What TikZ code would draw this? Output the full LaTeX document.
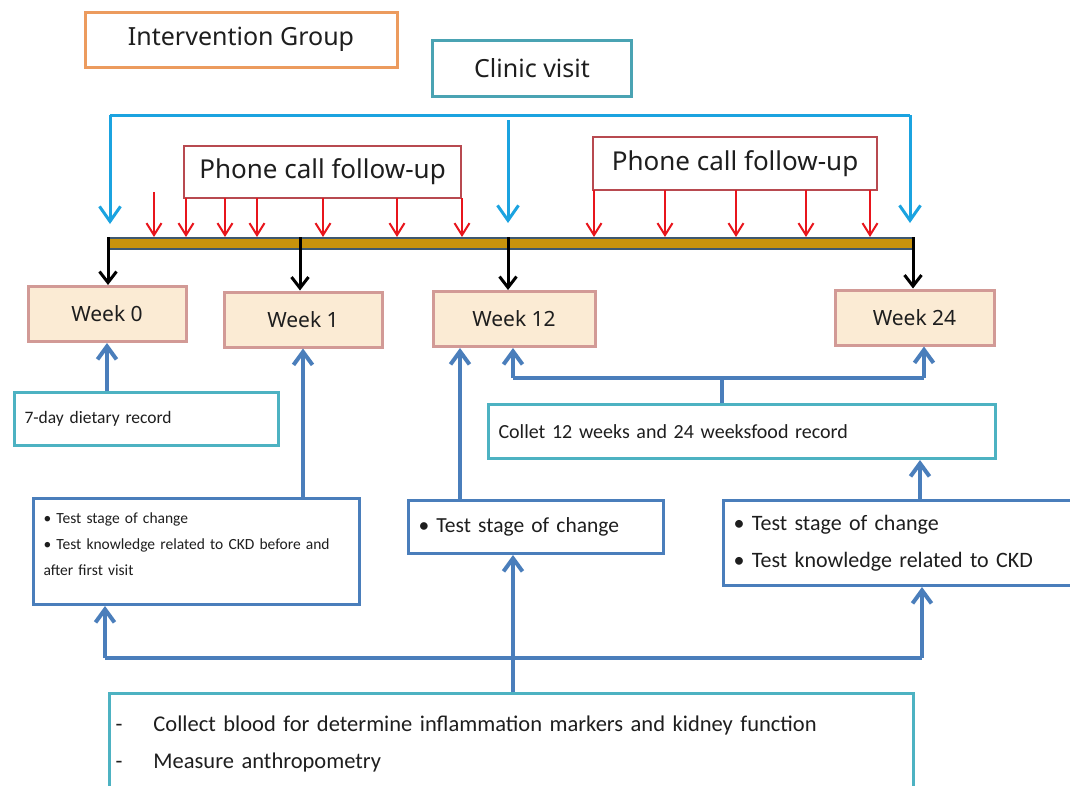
\documentclass[tikz,border=0pt]{standalone}
\usepackage{fontspec}
\setmainfont{Noto Sans}
\newfontfamily\bodyfont[WordSpace=0.75]{Carlito}
\usetikzlibrary{arrows.meta}

\definecolor{orangeb}{HTML}{EC9B5E}
\definecolor{tealb}{HTML}{4AA3B3}
\definecolor{tealbox}{HTML}{4DB2C2}
\definecolor{cyanarr}{HTML}{1BA3E0}
\definecolor{redarr}{HTML}{E8151C}
\definecolor{redbox}{HTML}{B84A50}
\definecolor{barfill}{HTML}{C8930C}
\definecolor{bardraw}{HTML}{3E5870}
\definecolor{weekfill}{HTML}{FBEBD4}
\definecolor{weekdraw}{HTML}{D29A96}
\definecolor{steel}{HTML}{4A7EBB}
\definecolor{ink}{HTML}{1E1E1E}

\tikzset{
  titlebox/.style={draw=orangeb, line width=3, fill=white, minimum width=312, minimum height=55,
    font=\fontsize{25}{28}\selectfont, text=ink},
  visitbox/.style={draw=tealb, line width=3.5, minimum width=199, minimum height=56,
    font=\fontsize{25}{28}\selectfont, text=ink},
  phonebox/.style={draw=redbox, line width=1.5, fill=white, font=\fontsize{26}{30}\selectfont, text=ink},
  weekbox/.style={draw=weekdraw, line width=3, fill=weekfill, minimum height=55,
    font=\fontsize{21}{24}\selectfont, text=ink},
  tealnote/.style={draw=tealbox, line width=3, fill=white, align=left, inner xsep=10,
    anchor=north west, text=ink},
  bluenote/.style={draw=steel, line width=3, fill=white, align=left, inner xsep=10,
    anchor=north west, text=ink},
  cyanline/.style={draw=cyanarr, line width=3},
  cyanpt/.style={cyanline, -{Straight Barb[length=15,width=21]}},
  redpt/.style={draw=redarr, line width=2, -{Straight Barb[length=12,width=15]}},
  blackpt/.style={draw=black, line width=3, -{Straight Barb[length=11,width=17]}},
  blueline/.style={draw=steel, line width=4},
  bluept/.style={blueline, -{Straight Barb[length=13,width=19]}},
}

\begin{document}
\begin{tikzpicture}[x=1pt,y=-1pt]
\useasboundingbox (0,0) rectangle (1070,785);
\fill[white] (0,0) rectangle (1070,785);

% headers
\node[titlebox] (grp) at (241,39.5) {Intervention Group};
\node[visitbox] (visit) at (532,68.5) {Clinic visit};

% time line
\node[draw=bardraw, line width=2, fill=barfill, minimum width=804, minimum height=11,
  inner sep=0, anchor=north west] (bar) at (108,237) {};

% phone call boxes
\node[phonebox, minimum width=277, minimum height=52] (pc1) at (322.5,172) {Phone call follow-up};
\node[phonebox, minimum width=284, minimum height=53] (pc2) at (735,163.5) {Phone call follow-up};

% clinic visit bracket
\coordinate (cL) at (110,115);
\coordinate (cM) at (508,120);
\coordinate (cR) at (910,115);
\draw[cyanline] (cL) -- (cR);
\draw[cyanpt] (cL) -- (110,224);
\draw[cyanpt] (cM) -- (508,223);
\draw[cyanpt] (cR) -- (910,223);

% phone call arrows
\coordinate (r0) at (154,192);
\draw[redpt] (r0) -- (r0 |- bar.north);
\foreach \x in {186,225,257,323,397,462} {
  \draw[redpt] (\x,198) -- (\x,237);
}
\foreach \x in {594,665,736,806,870} {
  \draw[redpt] (\x,190) -- (\x,237);
}

% week boxes
\node[weekbox, minimum width=158] (w0) at (107,314) {Week 0};
\node[weekbox, minimum width=158] (w1) at (303,319.5) {Week 1};
\node[weekbox, minimum width=162] (w12) at (514,319) {Week 12};
\node[weekbox, minimum width=159] (w24) at (914.5,317.5) {Week 24};

% ticks from the time line down to the weeks
\coordinate (t0) at (108,237);
\coordinate (t1) at (300,237);
\coordinate (t12) at (508,237);
\coordinate (t24) at (913,237);
\draw[blackpt] (t0) -- (t0 |- w0.north);
\draw[blackpt] (t1) -- (t1 |- w1.north);
\draw[blackpt] (t12) -- (t12 |- w12.north);
\draw[blackpt] (t24) -- (t24 |- w24.north);

% notes
\node[tealnote, minimum width=264, minimum height=53, text width=244,
  font=\bodyfont\fontsize{17.5}{20}\selectfont] (diet) at (13,391) {7-day dietary record};

\node[tealnote, minimum width=507, minimum height=54, text width=487,
  font=\bodyfont\fontsize{20}{22}\selectfont] (food) at (487,403) {Collet 12 weeks and 24 weeksfood record};

\node[bluenote, minimum width=326, minimum height=106, text width=306,
  font=\bodyfont\fontsize{15.5}{26}\selectfont] (t1box) at (32,497)
  {{\textbullet} Test stage of change\\
   {\textbullet} Test knowledge related to CKD before and\\
   after first visit\\[-12pt]\mbox{}};

\node[bluenote, minimum width=255, minimum height=53, text width=235,
  font=\bodyfont\fontsize{21.5}{24}\selectfont] (t2box) at (407,499)
  {{\textbullet} Test stage of change};

\node[bluenote, minimum width=355, minimum height=85, text width=335,
  font=\bodyfont\fontsize{22}{37}\selectfont] (t3box) at (722,499)
  {{\textbullet} Test stage of change\\
   {\textbullet} Test knowledge related to CKD};

\node[tealnote, minimum width=804, minimum height=100, text width=792, inner xsep=2,
  font=\bodyfont\fontsize{22.5}{37}\selectfont] (blood) at (108,692)
  {\makebox[38pt][l]{-}Collect blood for determine inflammation markers and kidney function\\
   \makebox[38pt][l]{-}Measure anthropometry};

% links up to the weeks
\draw[bluept] (diet.north -| w0) -- (w0.south);
\coordinate (a1) at (303,497);
\draw[bluept] (a1) -- (a1 |- w1.south);
\coordinate (a12) at (460,499);
\draw[bluept] (a12) -- (a12 |- w12.south);

\coordinate (fj) at (722,378);
\coordinate (fa) at (513,378);
\coordinate (fb) at (924,378);
\draw[blueline] (food.north -| fj) -- (fj);
\draw[blueline] (fa) -- (fb);
\draw[bluept] (fa) -- (fa |- w12.south);
\draw[bluept] (fb) -- (fb |- w24.south);

\coordinate (a3) at (920,499);
\draw[bluept] (a3) -- (a3 |- food.south);

% blood sampling links
\coordinate (bj) at (513,658);
\coordinate (bl) at (105,658);
\coordinate (br) at (922,658);
\draw[bluept] (blood.north -| bj) -- (bj |- t2box.south);
\draw[blueline] (bl) -- (br);
\draw[bluept] (bl) -- (bl |- t1box.south);
\draw[bluept] (br) -- (br |- t3box.south);
\end{tikzpicture}
\end{document}
